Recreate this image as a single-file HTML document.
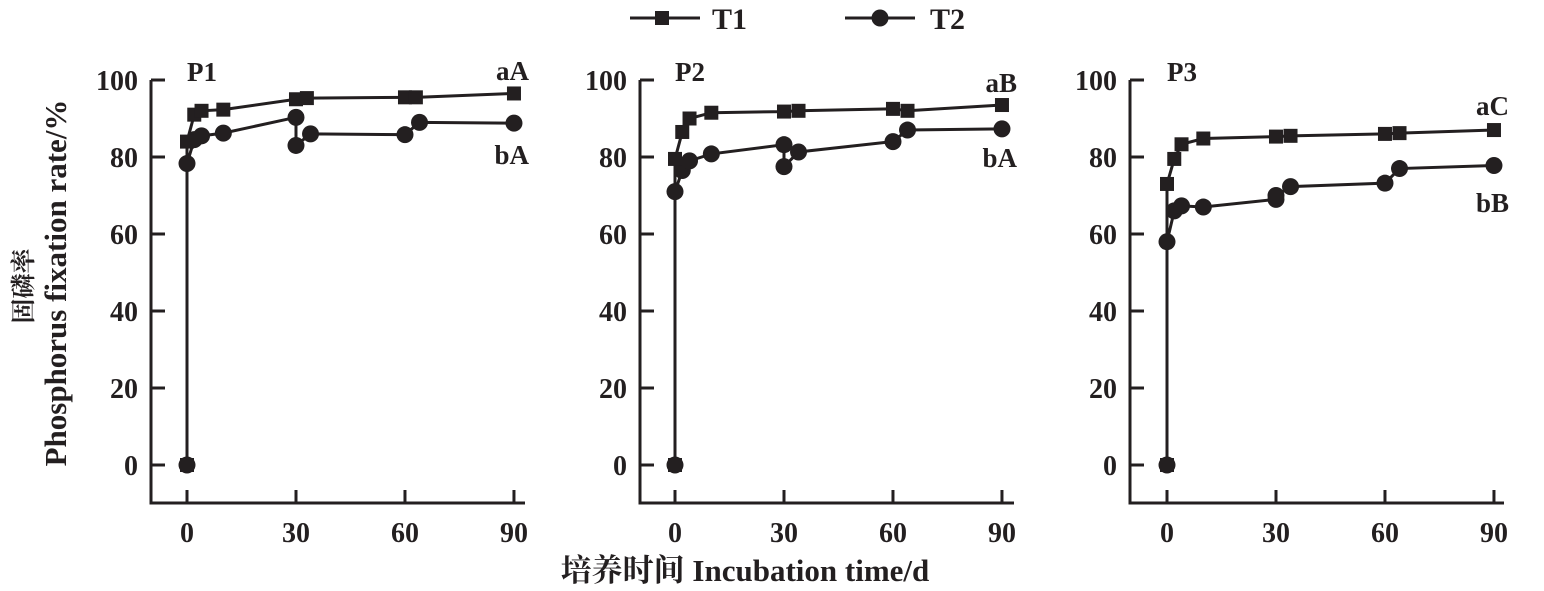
<!DOCTYPE html>
<html><head><meta charset="utf-8"><style>
body{margin:0;background:#fff}
svg{display:block}
text{font-family:"Liberation Serif","Noto Serif CJK SC",serif;font-weight:bold;fill:#231f20}
</style></head><body>
<svg id="s" width="1544" height="591" viewBox="0 0 1544 591" xmlns="http://www.w3.org/2000/svg">
<g stroke="#231f20" stroke-width="3" fill="#231f20">
<line x1="630" y1="18" x2="700" y2="18"/><rect x="655" y="11" width="14" height="14" stroke="none"/>
<line x1="845" y1="18" x2="915" y2="18"/><circle cx="880" cy="18" r="8.5" stroke="none"/>
</g>
<text x="712" y="29" font-size="30">T1</text>
<text x="930" y="29" font-size="30">T2</text>
<text transform="translate(32,286) rotate(-90)" font-size="25" text-anchor="middle">固磷率</text>
<text transform="translate(66,283) rotate(-90)" font-size="31" text-anchor="middle">Phosphorus fixation rate/%</text>
<text x="745" y="581" font-size="31" text-anchor="middle">培养时间 Incubation time/d</text>
<g id="g"></g>
</svg>
<script>
var panels=[
{ax:151,x0:187,name:"P1",l1:"aA",l1y:80,l2:"bA",l2y:164,
 t1:[[0,0],[0,84],[2,91],[4,92],[10,92.3],[30,95],[33,95.3],[60,95.5],[63,95.5],[90,96.5]],
 t2:[[0,0],[0,78.3],[2,84.5],[4,85.5],[10,86.2],[30,90.3],[30,83],[34,86],[60,85.8],[64,89],[90,88.8]]},
{ax:640,x0:675,name:"P2",l1:"aB",l1y:92,l2:"bA",l2y:167,
 t1:[[0,0],[0,79.5],[2,86.5],[4,90],[10,91.5],[30,91.8],[34,92],[60,92.5],[64,92],[90,93.5]],
 t2:[[0,0],[0,71],[2,76.5],[4,79],[10,80.8],[30,83.2],[30,77.5],[34,81.3],[60,84],[64,87],[90,87.3]]},
{ax:1130,x0:1167,name:"P3",l1:"aC",l1y:115,l2:"bB",l2y:212,
 t1:[[0,0],[0,73],[2,79.5],[4,83.3],[10,84.8],[30,85.3],[34,85.5],[60,86],[64,86.2],[90,87]],
 t2:[[0,0],[0,58],[2,66],[4,67.3],[10,67],[30,69],[30,70],[34,72.3],[60,73.2],[64,77],[90,77.8]]}];
var h="";
function Y(v){return 465-v*3.85}
panels.forEach(function(p){
 var X=function(d){return p.x0+d*3.633};
 h+='<g stroke="#231f20" stroke-width="3" fill="none">';
 h+='<polyline points="'+p.ax+',80 '+p.ax+',503 '+(p.ax+374)+',503"/>';
 for(var v=0;v<=100;v+=20)h+='<line x1="'+p.ax+'" y1="'+Y(v)+'" x2="'+(p.ax+14)+'" y2="'+Y(v)+'"/>';
 for(var d=0;d<=90;d+=30)h+='<line x1="'+X(d)+'" y1="503" x2="'+X(d)+'" y2="490"/>';
 [p.t1,p.t2].forEach(function(s){h+='<polyline points="'+s.map(function(q){return X(q[0])+','+Y(q[1])}).join(' ')+'"/>'});
 h+='</g><g fill="#231f20">';
 p.t2.forEach(function(q){h+='<circle cx="'+X(q[0])+'" cy="'+Y(q[1])+'" r="8.5"/>'});
 p.t1.forEach(function(q){h+='<rect x="'+(X(q[0])-7)+'" y="'+(Y(q[1])-7)+'" width="14" height="14"/>'});
 h+='</g>';
 for(var v=0;v<=100;v+=20)h+='<text x="'+(p.ax-13)+'" y="'+(Y(v)+10)+'" font-size="28" text-anchor="end">'+v+'</text>';
 for(var d=0;d<=90;d+=30)h+='<text x="'+X(d)+'" y="542" font-size="28" text-anchor="middle">'+d+'</text>';
 h+='<text x="'+(p.x0)+'" y="81" font-size="27">'+p.name+'</text>';
 h+='<text x="'+(p.x0+342)+'" y="'+p.l1y+'" font-size="27" text-anchor="end">'+p.l1+'</text>';
 h+='<text x="'+(p.x0+342)+'" y="'+p.l2y+'" font-size="27" text-anchor="end">'+p.l2+'</text>';
});
document.getElementById("g").innerHTML=h;
</script>
</body></html>
